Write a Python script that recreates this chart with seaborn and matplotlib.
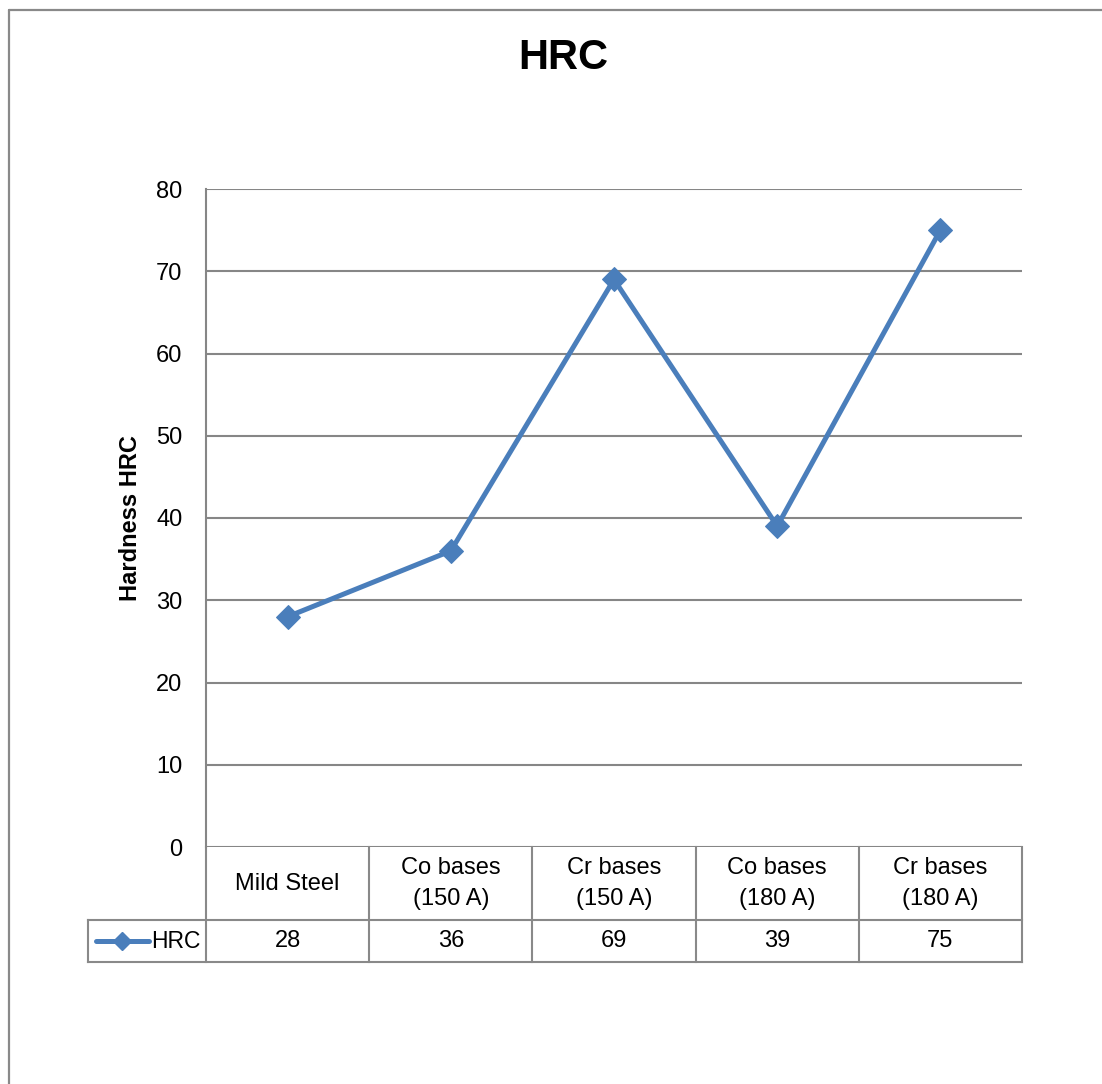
import matplotlib
matplotlib.use("Agg")
import matplotlib.pyplot as plt
import matplotlib.transforms as mtransforms
from matplotlib.lines import Line2D
import pandas as pd
import seaborn as sns

# Hardness data
categories = ["Mild Steel", "Co bases\n(150 A)", "Cr bases\n(150 A)", "Co bases\n(180 A)", "Cr bases\n(180 A)"]
hrc_values = [28, 36, 69, 39, 75]
y_ticks = [0, 10, 20, 30, 40, 50, 60, 70, 80]
series_name = "HRC"
title_text = "HRC"
y_label = "Hardness HRC"

sns.set_style("white")
plt.rcParams["font.family"] = ["Liberation Sans Narrow", "Liberation Sans", "DejaVu Sans"]
plt.rcParams["text.color"] = "black"
plt.rcParams["axes.labelcolor"] = "black"
plt.rcParams["ytick.color"] = "black"

LINE_BLUE = "#4A7EBB"
GRID_GRAY = "#868686"
BORDER_GRAY = "#898989"

W, H = 1102, 1084
fig = plt.figure(figsize=(W / 100, H / 100), dpi=100)
fig.patch.set_facecolor("white")

ax = fig.add_axes([206 / W, 1 - 847 / H, (1022 - 206) / W, (847 - 189) / H])

df = pd.DataFrame({"pos": range(len(categories)), "value": hrc_values})
sns.lineplot(data=df, x="pos", y="value", ax=ax, color=LINE_BLUE, linewidth=3.6,
             marker="D", markersize=12, markeredgecolor=LINE_BLUE, zorder=5)

ax.set_xlim(-0.5, len(categories) - 0.5)
ax.set_ylim(0, 80)
ax.set_yticks(y_ticks)
ax.set_yticklabels([str(t) for t in y_ticks], fontsize=17)
ax.set_xticks([])
ax.set_xlabel("")
ax.set_ylabel(y_label, fontsize=17, fontweight="bold")
ax.tick_params(axis="y", length=0, pad=17)
ax.yaxis.set_label_coords(-0.078, 0.5)
ax.grid(axis="y", color=GRID_GRAY, linewidth=1.5)
ax.set_axisbelow(True)
for side in ["top", "right", "bottom"]:
    ax.spines[side].set_visible(False)
ax.spines["left"].set_color(GRID_GRAY)
ax.spines["left"].set_linewidth(1.5)

# Data table under the plot
trans = mtransforms.blended_transform_factory(ax.transData, ax.transAxes)
row1_bot = -(920 - 847) / (847 - 189)
row2_bot = -(962 - 847) / (847 - 189)
legend_left = -0.5 - (206 - 88) / ((1022 - 206) / len(categories))

def seg(xs, ys):
    ax.add_line(Line2D(xs, ys, transform=trans, color=BORDER_GRAY, linewidth=1.5,
                       clip_on=False, solid_capstyle="projecting"))

n = len(categories)
for i in range(n + 1):
    seg([i - 0.5, i - 0.5], [0, row2_bot])
seg([legend_left, legend_left], [row1_bot, row2_bot])
seg([legend_left, n - 0.5], [row1_bot, row1_bot])
seg([legend_left, n - 0.5], [row2_bot, row2_bot])

for i, (cat, val) in enumerate(zip(categories, hrc_values)):
    ax.text(i, row1_bot / 2, cat, transform=trans, ha="center", va="center",
            fontsize=17, linespacing=1.55)
    ax.text(i, (row1_bot + row2_bot) / 2, str(val), transform=trans, ha="center",
            va="center", fontsize=17)

# Legend key inside the table
unit_px = (1022 - 206) / n
def px_to_x(px):
    return -0.5 + (px - 206) / unit_px

ymid = (row1_bot + row2_bot) / 2
ax.add_line(Line2D([px_to_x(96), px_to_x(149)], [ymid, ymid], transform=trans,
                   color=LINE_BLUE, linewidth=3.6, clip_on=False))
ax.add_line(Line2D([px_to_x(122)], [ymid], transform=trans, color=LINE_BLUE,
                   marker="D", markersize=9, clip_on=False))
ax.text(px_to_x(151), ymid, series_name, transform=trans, ha="left", va="center",
        fontsize=16.5)

# Title
fig.text(563 / W, 1 - 58 / H, title_text, ha="center", va="center",
         fontsize=30, fontweight="bold")

# Chart frame
fig.add_artist(Line2D([8.5 / W, 8.5 / W], [1 - 10 / H, 0], transform=fig.transFigure,
                      color=BORDER_GRAY, linewidth=1.6))
fig.add_artist(Line2D([8.5 / W, 1], [1 - 10 / H, 1 - 10 / H], transform=fig.transFigure,
                      color=BORDER_GRAY, linewidth=1.6))

fig.savefig("out.png", dpi=100, facecolor="white")
